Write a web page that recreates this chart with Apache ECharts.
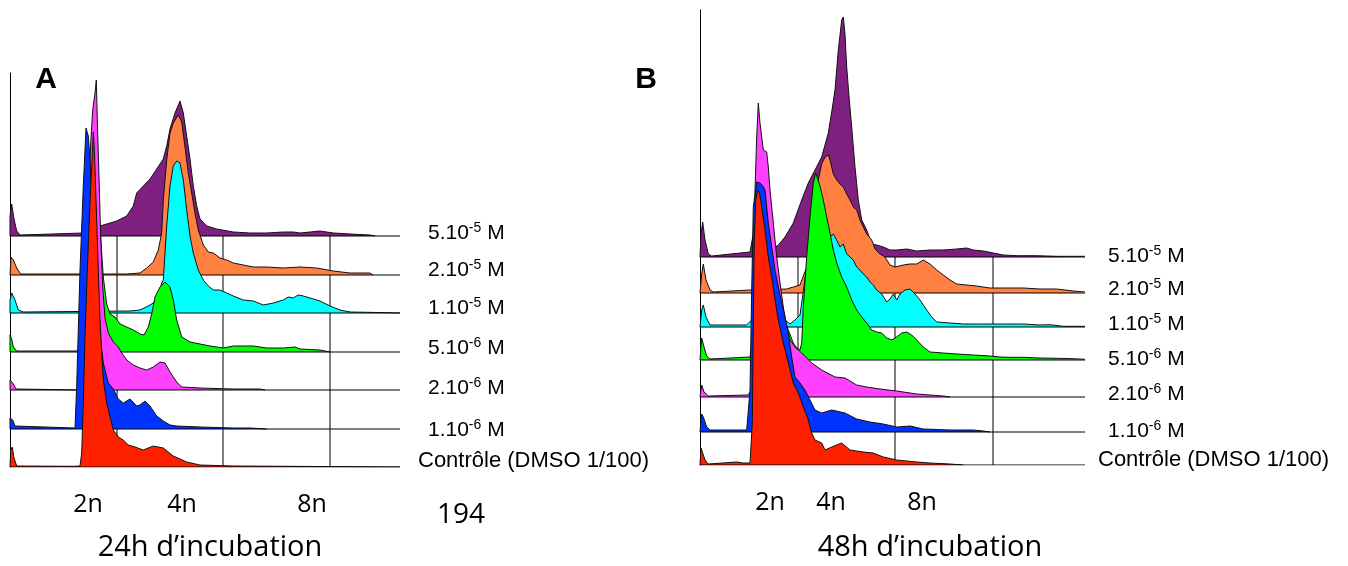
<!DOCTYPE html>
<html>
<head>
<meta charset="utf-8">
<script src="https://cdn.jsdelivr.net/npm/echarts@6/dist/echarts.min.js"></script>
<style>html,body{margin:0;padding:0;background:#fff}#c{width:1348px;height:566px}</style>
</head>
<body>
<div id="c"></div>
<script>
// ---------- DATA ----------
// concentrations (top row to bottom row)
const concMantissa = ['5.10', '2.10', '1.10', '5.10', '2.10', '1.10'];
const concExp = ['-5', '-5', '-5', '-6', '-6', '-6'];
const controlLabel = 'Contrôle (DMSO 1/100)';
const ploidyLabels = ['2n', '4n', '8n'];
const ploidyPosA = [78, 172, 302];
const ploidyPosB = [70, 131, 222];
const gridChannelsA = [107, 213, 320];
const gridChannelsB = [98, 195, 293];
const titleA = '24h d\u2019incubation';
const titleB = '48h d\u2019incubation';
const pageNumber = '194';

// histograms, panel A (24h) : [channel, count]
const A_5e5 = [[0,0],[0,20],[1.7,32],[4,17],[6.7,5],[10,1],[73.3,3],[80,27],[86.7,20],[90,10],[91.7,10],[100,13],[106.7,15],[116.7,20],[123.3,30],[126.7,43],[133.3,50],[140,57],[146.7,67],[153.3,77],[156.7,90],[160,107],[165,123],[170,135],[173.3,123],[176.7,100],[180,77],[183.3,50],[186.7,30],[190,17],[196.7,10],[206.7,7],[223.3,4],[240,3],[256.7,3],[273.3,4],[283.3,4],[290,3],[310,5],[323.3,3],[340,2],[360,1],[365,0]];
const A_2e5 = [[0,0],[1,18],[3.3,15],[6.7,7],[10.7,1],[116.7,1],[130,2],[136.7,7],[143.3,13],[148.3,25],[151.7,42],[153.3,75],[156.7,115],[160,142],[163.3,152],[168.3,160],[171.7,153],[175,128],[178.3,102],[181.7,82],[185,62],[188.3,45],[193.3,30],[198.3,23],[203.3,22],[210,17],[216.7,15],[223.3,12],[233.3,10],[243.3,8],[256.7,8],[273.3,7],[290,8],[306.7,7],[323.3,4],[340,2],[360,2],[363,0]];
const A_1e5 = [[0,0],[0,13],[1.7,20],[5,13],[8.3,3],[13.3,1],[120,2],[130,3],[138.3,7],[143.3,10],[148.3,17],[151.7,30],[153.3,33],[156.7,87],[160,127],[163.3,147],[166.7,152],[170,150],[173.3,133],[176.7,103],[180,77],[183.3,60],[188.3,43],[193.3,33],[198.3,27],[203.3,23],[210,23],[216.7,20],[223.3,17],[233.3,13],[243.3,12],[253.3,8],[263.3,10],[273.3,13],[278.3,16],[283.3,15],[288.3,18],[293.3,17],[300,15],[310,12],[320,7],[330,3],[340,1],[356.7,0.7],[376.7,0.3],[390,0]];
const A_5e6 = [[0,0],[0,17],[1.7,13],[3.3,5],[6.7,1],[66.7,1],[73.3,8],[78.3,125],[83.3,170],[86.7,165],[90,125],[93.3,75],[96.7,48],[100,38],[105,35],[110,28],[116.7,25],[123.3,22],[130,18],[134,17],[138.3,25],[141.7,38],[145,55],[150,65],[155,70],[160,65],[163.3,52],[166.7,32],[171.7,15],[180,10],[190,8],[200,6],[213.3,4],[223.3,6],[243.3,6],[256.7,4],[273.3,4],[285,5],[290,3],[310,2],[320,0]];
const A_2e6 = [[0,0],[0,10],[2.7,7],[6,1],[70,0],[73.3,20],[76.7,130],[80.7,247],[82.7,280],[85,297],[86.3,310],[87.3,270],[89.3,203],[90.7,153],[92.7,103],[95,72],[98.3,57],[103.3,48],[108.3,43],[111.7,37],[116.7,30],[123.3,25],[130,22],[136.7,20],[143.3,23],[150,28],[155,27],[160,18],[166.7,8],[171.7,3],[190,2],[223,1],[250,1],[255,0]];
const A_1e6 = [[0,0],[0,11],[2.7,9],[5,3],[6.7,1],[65,1],[66.7,43],[70,159],[73.3,243],[76,301],[78.3,293],[80,269],[83.3,186],[88.3,110],[93.3,66],[98.3,46],[103.3,40],[108.3,30],[113.3,26],[120,30],[126.7,23],[130,24],[135,28],[140,23],[146.7,13],[153.3,8],[160,4],[166.7,3],[190,2],[223,1],[240,1],[256.7,0]];
const A_ctrl = [[0,0],[0.7,17],[2.3,20],[4,9],[6.7,1],[63,0.7],[70,1],[71.7,14],[73.3,64],[75,131],[77.3,197],[80,264],[81.7,300],[83.3,335],[84.3,318],[85,297],[86.7,247],[88.3,197],[90,147],[91.7,114],[93.3,87],[96.7,64],[100,50],[103.3,37],[108.3,30],[113.3,27],[118.3,22],[125,20],[133.3,17],[143.3,21],[153.3,19],[163.3,11],[176.7,5],[190,2],[223,1],[310,0.5],[390,0]];

// histograms, panel B (48h) : [channel, count]
const B_5e5 = [[0,0],[1,23],[2.7,35],[5,17],[8.3,3],[11.7,1],[50,5],[53.3,23],[60,57],[66.7,40],[73.3,17],[76.7,10],[80,14],[85,20],[93.3,34],[101.7,57],[108.3,74],[115,87],[121.7,100],[128.3,124],[131.7,145],[135,167],[138.3,207],[141.7,237],[143.3,240],[145,223],[146.7,190],[149.3,157],[151.7,130],[155,90],[158.3,57],[161.7,37],[166.7,27],[171.7,13],[176.7,12],[183.3,10],[190,7],[196.7,7],[206.7,8],[216.7,6],[230,7],[243.3,7],[256.7,8],[266.7,9],[273.3,7],[283.3,6],[293.3,4],[303.3,2],[316.7,1.3],[336.7,1.3],[356.7,0.7],[385,0.7]];
const B_2e5 = [[0,0],[1.7,19],[3.3,29],[6,13],[10,3],[13.3,1],[50,3],[86.7,4],[93.3,6],[100,8],[106.7,26],[113.3,76],[118.3,113],[121.7,129],[125,136],[128.3,138],[130,133],[131.7,126],[133.3,119],[136.7,113],[140,109],[143.3,106],[146.7,99],[150,93],[153.3,86],[156.7,83],[160,73],[163.3,66],[166.7,59],[171.7,53],[175,44],[180,39],[185,36],[190,28],[195,26],[203.3,28],[210,29],[216.7,29],[223.3,33],[230,29],[236.7,23],[243.3,18],[250,13],[256.7,9],[266.7,8],[276.7,7],[290,5],[306.7,5],[323.3,5],[340,4],[356.7,4],[373.3,2],[385,1]];
const B_1e5 = [[0,0],[1.7,17],[3.3,22],[6,10],[10,2],[46.7,2],[51.7,7],[60,30],[70,20],[90,3],[95,7],[100,12],[106.7,60],[113.3,93],[120,107],[125,103],[126.7,97],[130,90],[133.3,93],[136.7,87],[140,80],[143.3,83],[146.7,73],[150,70],[153.3,67],[156.7,60],[160,57],[163.3,53],[166.7,50],[170,45],[173.3,42],[176.7,37],[181.7,33],[186.7,25],[190,28],[193.3,33],[196.7,27],[200,33],[205,37],[210,38],[215,33],[220,27],[226.7,17],[231.7,10],[236.7,5],[250,4],[263.3,3],[283.3,3],[303.3,3],[323.3,3],[340,2],[350,2.3],[363.3,0.7],[385,0.7]];
const B_5e6 = [[0,0],[1.7,22],[4,13],[6.7,4],[10,1],[50,3],[53.3,27],[58.3,93],[63.3,110],[73.3,77],[83.3,43],[93.3,17],[96.7,12],[100,10],[101.7,17],[103.3,53],[106.7,103],[110,143],[113.3,177],[115.7,187],[117.5,186],[120,174],[123.3,160],[126.7,143],[130,127],[133.3,110],[136.7,97],[141.7,83],[146.7,73],[151.7,60],[156.7,50],[161.7,43],[166.7,37],[171.7,30],[176.7,28],[181.7,27],[186.7,22],[191.7,20],[196.7,23],[201.7,27],[206.7,28],[211.7,25],[216.7,20],[223.3,13],[230,8],[243.3,7],[256.7,6],[273.3,5],[290,4],[300,3],[310,2.7],[323.3,2.7],[340,2],[356.7,1.7],[373.3,1.3],[385,0.7]];
const B_2e6 = [[0,0],[1.7,12],[4,5],[8.3,1],[48,2],[51.7,7],[53,60],[55,207],[56.7,260],[58.3,294],[60,274],[63.3,247],[66.7,245],[68.3,230],[70,207],[73.3,174],[76.7,140],[80,114],[83.3,90],[86.7,70],[90,57],[95,50],[101.7,44],[111.7,34],[121.7,27],[135,20],[145,19],[156.7,12],[166.7,10],[180,8],[196.7,6],[216.7,3],[230,2],[243.3,1],[250,0]];
const B_1e6 = [[0,0],[1.7,18],[3.3,15],[6.7,5],[10,2],[46.7,2],[48.3,2],[50,42],[51.7,142],[53.3,225],[56.7,250],[60,249],[63,246],[65,242],[68.3,209],[71.7,185],[75,162],[78.3,145],[81.7,129],[85,115],[88.3,99],[91.7,75],[95,55],[100,49],[105,42],[110,32],[115,22],[121.7,19],[131.7,22],[145,19],[156.7,13],[170,10],[183.3,8],[196.7,5],[210,6],[223.3,3],[250,2],[273.3,2],[283.3,1],[290,0]];
const B_ctrl = [[0,0],[1,17],[2.7,15],[5,5],[8.3,1],[36.7,3],[43.3,2],[45,2],[50,2],[52.3,42],[53.3,142],[54.3,225],[55.7,265],[57.7,275],[59.5,272],[61.7,258],[65,235],[68.3,208],[71.7,188],[75,165],[78.3,145],[83.3,122],[88.3,102],[93.3,82],[98.3,72],[103.3,58],[108.3,45],[111.7,32],[115,25],[121.7,22],[125,15],[131.7,18],[141.7,22],[150,15],[163.3,13],[173.3,12],[183.3,8],[196.7,5],[216.7,3],[230,2],[250,1],[263.3,0]];

// ---------- LAYOUT / STYLE ----------
const tracesA = [A_5e5, A_2e5, A_1e5, A_5e6, A_2e6, A_1e6, A_ctrl];
const tracesB = [B_5e5, B_2e5, B_1e5, B_5e6, B_2e6, B_1e6, B_ctrl];
const rowOffsetA = [231, 192, 154, 115, 77, 38, 0];
const rowOffsetB = [208, 172, 138, 105, 68, 33, 0];
const colors = ['#7f1f7f', '#ff8040', '#00ffff', '#00ff00', '#ff40ff', '#0033ff', '#ff2000'];
const labelYA = [233, 270, 308, 348, 388, 430, 461];
const labelYB = [256, 289, 324, 359, 394, 431, 460];

let zCounter = 1;
function panelSeries(gi, traces, offsets, xMax, gridX) {
  const s = [];
  const top = offsets[0];
  gridX.forEach(function (gx) {
    s.push({type: 'line', xAxisIndex: gi, yAxisIndex: gi, z: zCounter++, data: [[gx, 0], [gx, top]],
      symbol: 'none', silent: true, lineStyle: {color: '#000', width: 1}});
  });
  traces.forEach(function (tr, r) {
    const off = offsets[r];
    s.push({type: 'line', xAxisIndex: gi, yAxisIndex: gi, z: zCounter++,
      data: tr.map(function (p) { return [p[0], off + p[1]]; }),
      symbol: 'none', silent: true,
      lineStyle: {color: '#111', width: 1},
      areaStyle: {color: colors[r], opacity: 1, origin: off}});
    s.push({type: 'line', xAxisIndex: gi, yAxisIndex: gi, z: zCounter++, data: [[0, off], [xMax, off]],
      symbol: 'none', silent: true, lineStyle: {color: '#000', width: 1}});
  });
  return s;
}

function xAxisDef(gi, max, pos) {
  return {type: 'value', gridIndex: gi, min: 0, max: max,
    axisLine: {show: false}, axisTick: {show: false}, splitLine: {show: false},
    axisLabel: {show: true, customValues: pos, margin: 25, color: '#000',
      fontFamily: 'Open Sans', fontSize: 25,
      formatter: function (v) { const i = pos.indexOf(v); return i >= 0 ? ploidyLabels[i] : ''; }}};
}
function yAxisDef(gi, max) {
  return {type: 'value', gridIndex: gi, min: 0, max: max,
    axisLine: {show: true, lineStyle: {color: '#000', width: 1}},
    axisTick: {show: false}, axisLabel: {show: false}, splitLine: {show: false}};
}

function rowLabels(xNum, xCtrl, ys) {
  const g = [];
  for (let i = 0; i < concMantissa.length; i++) {
    g.push({type: 'text', x: xNum, y: ys[i], silent: true,
      style: {text: '{m|' + concMantissa[i] + '}{e|' + concExp[i] + '}{m| M}',
        verticalAlign: 'middle', align: 'left',
        rich: {m: {fontFamily: 'Liberation Sans', fontSize: 21, lineHeight: 24, fill: '#000'},
               e: {fontFamily: 'Liberation Sans', fontSize: 14, lineHeight: 14, verticalAlign: 'top', fill: '#000'}}}});
  }
  g.push({type: 'text', x: xCtrl, y: ys[6], silent: true,
    style: {text: controlLabel, verticalAlign: 'middle', align: 'left',
      fontFamily: 'Liberation Sans', fontSize: 22, fill: '#000'}});
  return g;
}

const chart = echarts.init(document.getElementById('c'), null, {renderer: 'canvas'});
const graphics = [].concat(
  rowLabels(428, 418, labelYA),
  rowLabels(1108, 1098, labelYB),
  [
    {type: 'text', x: 46, y: 80, style: {text: 'A', align: 'center', verticalAlign: 'middle', fontFamily: 'Liberation Sans', fontWeight: 'bold', fontSize: 30, fill: '#000'}},
    {type: 'text', x: 646, y: 80, style: {text: 'B', align: 'center', verticalAlign: 'middle', fontFamily: 'Liberation Sans', fontWeight: 'bold', fontSize: 30, fill: '#000'}},
    {type: 'text', x: 210, y: 548, style: {text: titleA, align: 'center', verticalAlign: 'middle', fontFamily: 'Open Sans', fontSize: 29, fill: '#000'}},
    {type: 'text', x: 930, y: 548, style: {text: titleB, align: 'center', verticalAlign: 'middle', fontFamily: 'Open Sans', fontSize: 29, fill: '#000'}},
    {type: 'text', x: 461, y: 515, style: {text: pageNumber, align: 'center', verticalAlign: 'middle', fontFamily: 'Open Sans', fontSize: 28, fill: '#000'}}
  ]);

chart.setOption({
  animation: false,
  backgroundColor: '#fff',
  grid: [
    {left: 10, top: 73, width: 390, height: 394},
    {left: 700, top: 10, width: 385, height: 455}
  ],
  xAxis: [xAxisDef(0, 390, ploidyPosA), xAxisDef(1, 385, ploidyPosB)],
  yAxis: [yAxisDef(0, 394), yAxisDef(1, 455)],
  series: [].concat(
    panelSeries(0, tracesA, rowOffsetA, 390, gridChannelsA),
    panelSeries(1, tracesB, rowOffsetB, 385, gridChannelsB)
  ),
  graphic: graphics
});
</script>
</body>
</html>
